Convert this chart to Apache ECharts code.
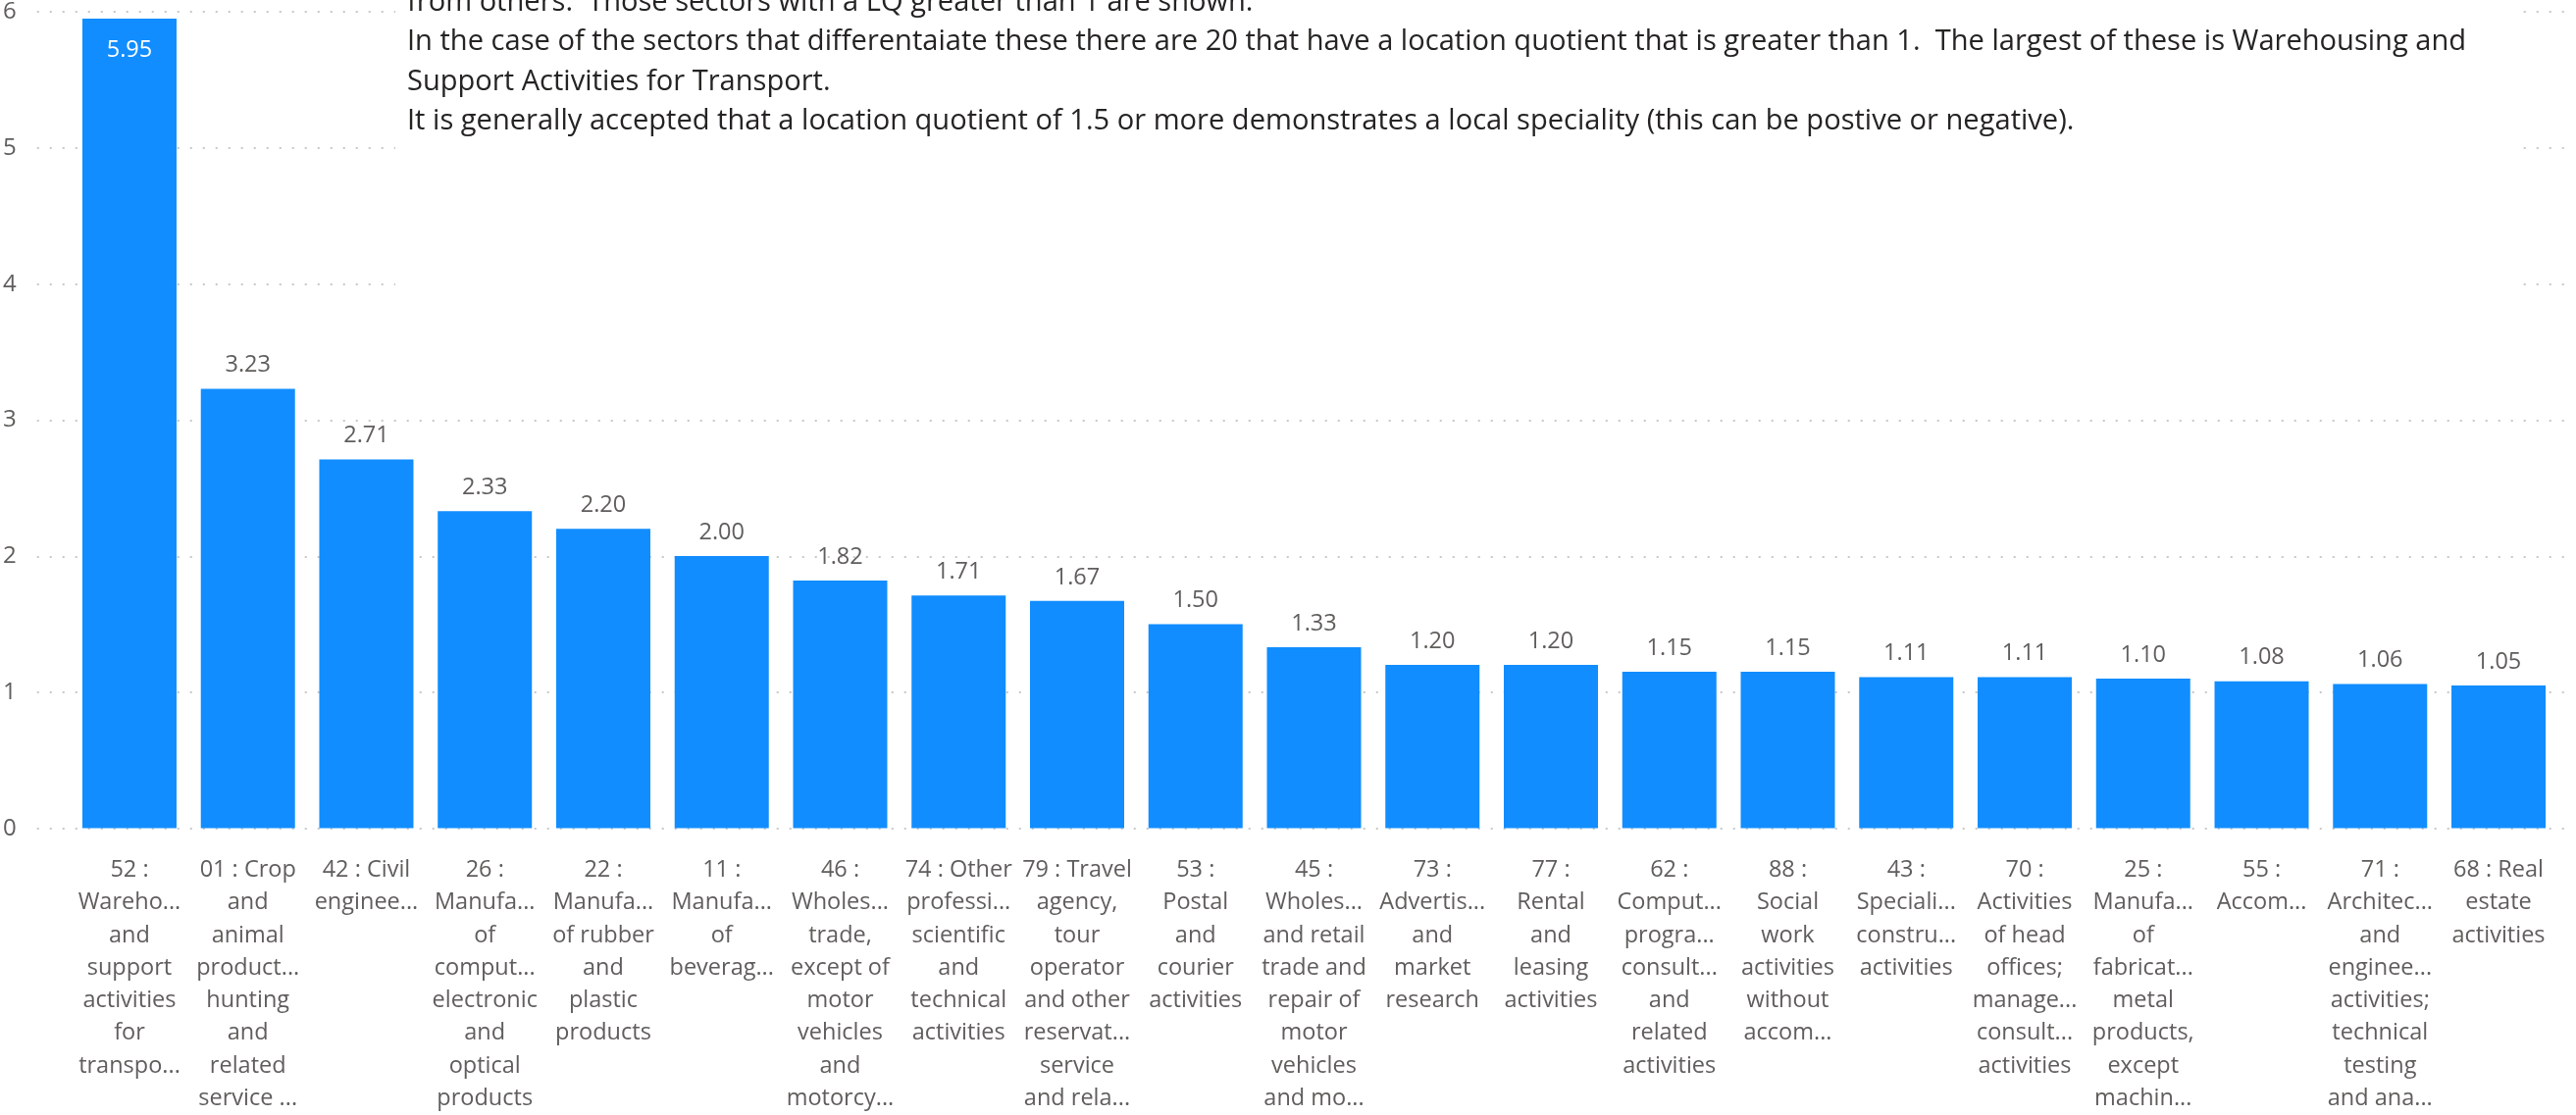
<!doctype html>
<html lang="en">
<head>
    <meta charset="UTF-8">
    <title>Location quotient by sector</title>
    <style>
        html, body { margin: 0; padding: 0; background: #fff; }
        #main { width: 2626px; height: 1137px; }
    </style>
    <script src="https://cdn.jsdelivr.net/npm/echarts@6/dist/echarts.min.js"></script>
</head>
<body>
<div id="main"></div>
<script type="text/javascript">
    // sector labels as they show under the bars
    var categories = [
        '52 :\nWareho...\nand\nsupport\nactivities\nfor\ntranspo...',
        '01 : Crop\nand\nanimal\nproduct...\nhunting\nand\nrelated\nservice ...',
        '42 : Civil\nenginee...',
        '26 :\nManufa...\nof\ncomput...\nelectronic\nand\noptical\nproducts',
        '22 :\nManufa...\nof rubber\nand\nplastic\nproducts',
        '11 :\nManufa...\nof\nbeverag...',
        '46 :\nWholes...\ntrade,\nexcept of\nmotor\nvehicles\nand\nmotorcy...',
        '74 : Other\nprofessi...\nscientific\nand\ntechnical\nactivities',
        '79 : Travel\nagency,\ntour\noperator\nand other\nreservat...\nservice\nand rela...',
        '53 :\nPostal\nand\ncourier\nactivities',
        '45 :\nWholes...\nand retail\ntrade and\nrepair of\nmotor\nvehicles\nand mo...',
        '73 :\nAdvertis...\nand\nmarket\nresearch',
        '77 :\nRental\nand\nleasing\nactivities',
        '62 :\nComput...\nprogra...\nconsult...\nand\nrelated\nactivities',
        '88 :\nSocial\nwork\nactivities\nwithout\naccom...',
        '43 :\nSpeciali...\nconstru...\nactivities',
        '70 :\nActivities\nof head\noffices;\nmanage...\nconsult...\nactivities',
        '25 :\nManufa...\nof\nfabricat...\nmetal\nproducts,\nexcept\nmachin...',
        '55 :\nAccom...',
        '71 :\nArchitec...\nand\nenginee...\nactivities;\ntechnical\ntesting\nand ana...',
        '68 : Real\nestate\nactivities'
    ];
    // location quotient per sector
    var lqValues = [5.95, 3.23, 2.71, 2.33, 2.20, 2.00, 1.82, 1.71, 1.67, 1.50, 1.33,
        1.20, 1.20, 1.15, 1.15, 1.11, 1.11, 1.10, 1.08, 1.06, 1.05];
    // value axis ticks
    var yMin = 0, yMax = 6, yStep = 1;
    // text box over the top of the chart (first line is cut off by the edge)
    var noteLines = [
        'from others.  Those sectors with a LQ greater than 1 are shown.',
        'In the case of the sectors that differentaiate these there are 20 that have a location quotient that is greater than 1.  The largest of these is Warehousing and',
        'Support Activities for Transport.',
        'It is generally accepted that a location quotient of 1.5 or more demonstrates a local speciality (this can be postive or negative).'
    ];

    var font = '"Open Sans", "Noto Sans", sans-serif';
    var grey = '#605E5C';

    // size the note so its long line spans the same width as the original
    var ctx = document.createElement('canvas').getContext('2d');
    ctx.font = '100px "Open Sans"';
    var noteSize = 100 * 2100 / ctx.measureText(noteLines[1]).width;

    var barData = lqValues.map(function (v) {
        if (v > yMax - 0.3) {
            // no room above the tallest bar, label goes inside
            return {value: v, label: {position: 'insideTop', distance: 20, color: '#fff'}};
        }
        return v;
    });

    var myChart = echarts.init(document.getElementById('main'));
    myChart.setOption({
        backgroundColor: '#fff',
        animation: false,
        grid: [
            {left: 36, right: 6, top: 12, bottom: 292},      // gridlines + y labels
            {left: 71.6, right: 18.6, top: 12, bottom: 292}  // bars
        ],
        xAxis: [
            {type: 'value', gridIndex: 0, show: false, min: 0, max: 1},
            {
                type: 'category', gridIndex: 1, data: categories,
                axisLine: {show: false}, axisTick: {show: false},
                axisLabel: {
                    interval: 0, margin: 26, color: grey,
                    fontFamily: font, fontSize: 23.5, lineHeight: 33.3, align: 'center'
                }
            }
        ],
        yAxis: [
            {
                type: 'value', gridIndex: 0, min: yMin, max: yMax, interval: yStep,
                axisLine: {show: false}, axisTick: {show: false},
                axisLabel: {color: grey, fontFamily: font, fontSize: 24, margin: 21},
                splitLine: {lineStyle: {color: '#C8C8C8', width: 2, type: [2, 11]}}
            },
            {
                type: 'value', gridIndex: 1, min: yMin, max: yMax, interval: yStep,
                show: false, splitLine: {show: false}
            }
        ],
        series: [{
            type: 'bar',
            xAxisIndex: 1,
            yAxisIndex: 1,
            data: barData,
            barCategoryGap: '20.5%',
            itemStyle: {color: '#118DFF'},
            label: {
                show: true, position: 'top', distance: 12,
                color: grey, fontFamily: font, fontSize: 23.5,
                formatter: function (p) { return p.value.toFixed(2); }
            }
        }],
        graphic: [
            {
                type: 'rect', left: 403, top: 0, z: 10,
                shape: {width: 2167, height: 380},
                style: {fill: '#fff'}
            },
            {
                type: 'text', x: 415, y: -18, z: 11,
                style: {
                    text: noteLines.join('\n'),
                    fill: '#252423',
                    fontFamily: font,
                    fontSize: noteSize,
                    lineHeight: 40.5,
                    verticalAlign: 'top'
                }
            }
        ]
    });
</script>
</body>
</html>
